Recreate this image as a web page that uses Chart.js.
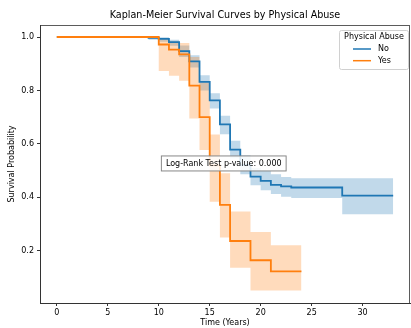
<!DOCTYPE html>
<html>
<head>
<meta charset="utf-8">
<script src="https://cdn.jsdelivr.net/npm/chart.js@4/dist/chart.umd.min.js"></script>
<style>
  html, body { margin: 0; padding: 0; background: #fff; }
  canvas { display: block; }
</style>
</head>
<body>
<canvas id="kmChart" width="411" height="328"></canvas>
<script>
// ---- data ----
const seriesNames = ["No", "Yes"];
const legendTitle = "Physical Abuse";

// group "No"
const noTimes = [0, 9, 10, 11, 12, 13, 14, 15, 16, 17, 18, 19, 20, 21, 22, 23, 28, 33];
const noSurv  = [1.0, 0.997, 0.993, 0.981, 0.947, 0.909, 0.832, 0.763, 0.673, 0.579, 0.522, 0.478, 0.462, 0.447, 0.441, 0.437, 0.407, 0.407];
const noUpper = [1.0, 1.0, 0.999, 0.990, 0.968, 0.932, 0.857, 0.790, 0.705, 0.612, 0.558, 0.510, 0.500, 0.487, 0.476, 0.472, 0.472, 0.472];
const noLower = [1.0, 0.990, 0.982, 0.967, 0.925, 0.886, 0.800, 0.733, 0.636, 0.546, 0.487, 0.445, 0.427, 0.413, 0.402, 0.398, 0.337, 0.337];

// group "Yes"
const yesTimes = [0, 10, 11, 12, 13, 14, 15, 16, 17, 19, 21, 24];
const yesSurv  = [1.0, 0.972, 0.953, 0.935, 0.818, 0.700, 0.520, 0.372, 0.237, 0.165, 0.123, 0.123];
const yesUpper = [1.0, 0.994, 0.983, 0.978, 0.925, 0.830, 0.635, 0.490, 0.347, 0.271, 0.221, 0.221];
const yesLower = [1.0, 0.873, 0.855, 0.836, 0.695, 0.577, 0.384, 0.250, 0.137, 0.052, 0.052, 0.052];

const xTicks = [0, 5, 10, 15, 20, 25, 30];
const yTicks = [0.2, 0.4, 0.6, 0.8, 1.0];

const chartTitle = "Kaplan-Meier Survival Curves by Physical Abuse";
const xLabel = "Time (Years)";
const yLabel = "Survival Probability";
const logRankText = "Log-Rank Test p-value: 0.000";

// ---- styling ----
const FONT = "'DejaVu Sans', sans-serif";
const BLUE = "#1f77b4";
const ORANGE = "#ff7f0e";
const BLUE_BAND = "rgba(31, 119, 180, 0.28)";
const ORANGE_BAND = "rgba(255, 127, 14, 0.28)";

function pts(times, vals) {
    return times.map((t, i) => ({ x: t, y: vals[i] }));
}

// KM curve: value holds until the next time, then drops (horizontal first)
function lineSet(label, times, vals, color) {
    return {
        label: label,
        data: pts(times, vals),
        borderColor: color,
        borderWidth: 1.8,
        pointRadius: 0,
        stepped: 'before',
        fill: false
    };
}

// upper edge fills down to the lower edge that follows it
function bandSets(times, upper, lower, color) {
    return [
        {
            label: "upper",
            data: pts(times, upper),
            borderWidth: 0,
            borderColor: 'rgba(0,0,0,0)',
            backgroundColor: color,
            pointRadius: 0,
            stepped: 'before',
            fill: '+1'
        },
        {
            label: "lower",
            data: pts(times, lower),
            borderWidth: 0,
            borderColor: 'rgba(0,0,0,0)',
            pointRadius: 0,
            stepped: 'before',
            fill: false
        }
    ];
}

// frame, titles, legend and log-rank box drawn on top
const decorPlugin = {
    id: 'decor',
    afterDraw(chart) {
        const ctx = chart.ctx;
        const a = chart.chartArea;
        const xs = chart.scales.x;
        const ys = chart.scales.y;
        ctx.save();

        // frame
        ctx.strokeStyle = '#333';
        ctx.lineWidth = 0.8;
        ctx.strokeRect(a.left + 0.5, a.top + 0.5, a.right - a.left - 1, a.bottom - a.top);

        // title
        ctx.fillStyle = '#000';
        ctx.font = "9.6px " + FONT;
        ctx.textAlign = 'center';
        ctx.textBaseline = 'middle';
        ctx.fillText(chartTitle, (a.left + a.right) / 2, 15);

        // axis labels
        ctx.font = "8px " + FONT;
        ctx.fillText(xLabel, (a.left + a.right) / 2, 323);
        ctx.save();
        ctx.translate(12, (a.top + a.bottom) / 2);
        ctx.rotate(-Math.PI / 2);
        ctx.fillText(yLabel, 0, 0);
        ctx.restore();

        // log-rank box (data coords)
        const tx = xs.getPixelForValue(10.7);
        const ty = ys.getPixelForValue(0.527);
        ctx.font = "8px " + FONT;
        const tw = ctx.measureText(logRankText).width;
        ctx.fillStyle = 'rgba(255,255,255,0.85)';
        ctx.fillRect(tx - 4.5, ty - 7.5, tw + 9, 15);
        ctx.strokeStyle = '#888';
        ctx.lineWidth = 1;
        ctx.strokeRect(tx - 4.5, ty - 7.5, tw + 9, 15);
        ctx.fillStyle = '#000';
        ctx.textAlign = 'left';
        ctx.fillText(logRankText, tx, ty);

        // legend
        const lx = a.right - 71, ly = a.top + 5, lw = 69, lh = 39;
        ctx.fillStyle = 'rgba(255,255,255,0.85)';
        ctx.strokeStyle = '#d0d0d0';
        ctx.lineWidth = 1;
        ctx.beginPath();
        ctx.roundRect(lx + 0.5, ly + 0.5, lw, lh, 2);
        ctx.fill();
        ctx.stroke();
        ctx.fillStyle = '#000';
        ctx.textAlign = 'center';
        ctx.fillText(legendTitle, lx + lw / 2 + 0.5, ly + 7);
        const colors = [BLUE, ORANGE];
        seriesNames.forEach((name, i) => {
            const yy = ly + 19 + i * 11.7;
            ctx.strokeStyle = colors[i];
            ctx.lineWidth = 1.5;
            ctx.beginPath();
            ctx.moveTo(lx + 14, yy);
            ctx.lineTo(lx + 32, yy);
            ctx.stroke();
            ctx.fillStyle = '#000';
            ctx.textAlign = 'left';
            ctx.fillText(name, lx + 39, yy);
        });

        ctx.restore();
    }
};

// first dataset is drawn top-most: orange line, blue line, orange band, blue band
const ctx = document.getElementById('kmChart').getContext('2d');
new Chart(ctx, {
    type: 'line',
    data: {
        datasets: [
            lineSet(seriesNames[1], yesTimes, yesSurv, ORANGE),
            lineSet(seriesNames[0], noTimes, noSurv, BLUE),
            ...bandSets(yesTimes, yesUpper, yesLower, ORANGE_BAND),
            ...bandSets(noTimes, noUpper, noLower, BLUE_BAND)
        ]
    },
    options: {
        responsive: false,
        animation: false,
        layout: { padding: { left: 0, right: 1, top: 25, bottom: 0 } },
        plugins: {
            legend: { display: false },
            title: { display: false },
            tooltip: { enabled: false }
        },
        scales: {
            x: {
                type: 'linear',
                min: -1.65,
                max: 34.65,
                afterBuildTicks: (s) => { s.ticks = xTicks.map(v => ({ value: v })); },
                afterFit: (s) => { s.height = 25; },
                grid: { drawOnChartArea: false, drawTicks: true, tickLength: 3, tickColor: '#333' },
                border: { display: true, color: '#333', width: 1 },
                ticks: {
                    font: { family: FONT, size: 8 },
                    color: '#000',
                    padding: 2,
                    maxRotation: 0,
                    callback: (v) => String(v)
                }
            },
            y: {
                type: 'linear',
                min: 0.005,
                max: 1.0449,
                afterBuildTicks: (s) => { s.ticks = yTicks.map(v => ({ value: v })); },
                afterFit: (s) => { s.width = 40; },
                grid: { drawOnChartArea: false, drawTicks: true, tickLength: 3, tickColor: '#333' },
                border: { display: true, color: '#333', width: 1 },
                ticks: {
                    font: { family: FONT, size: 8 },
                    color: '#000',
                    padding: 3,
                    callback: (v) => Number(v).toFixed(1)
                }
            }
        }
    },
    plugins: [decorPlugin]
});
</script>
</body>
</html>
